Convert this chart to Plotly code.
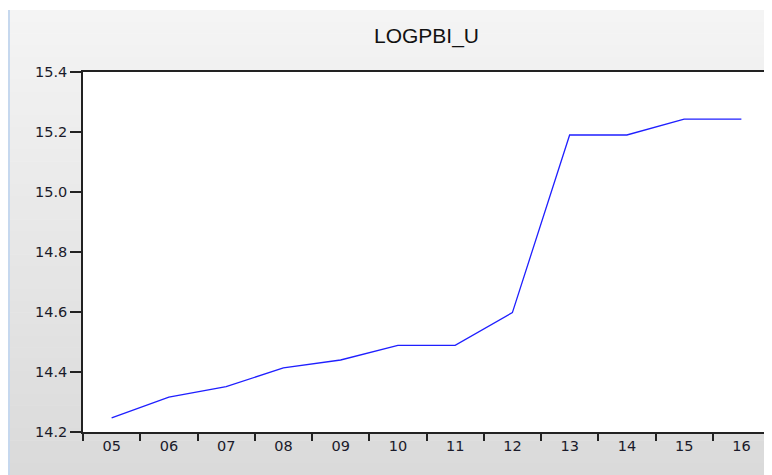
import plotly.graph_objects as go

categories = ["05", "06", "07", "08", "09", "10", "11", "12", "13", "14", "15", "16"]
logpbi_u = [14.247, 14.316, 14.351, 14.414, 14.440, 14.489, 14.489, 14.598, 15.190, 15.190, 15.243, 15.243]
y_ticks = [14.2, 14.4, 14.6, 14.8, 15.0, 15.2, 15.4]

# The page body has an 8px margin, so the figure is laid out 8px smaller.
W, H = 764, 467
ML, MR, MT, MB = 75, 2, 64, 43
PW, PH = W - ML - MR, H - MT - MB


def px_x(X):
    return (X - ML) / PW


def px_y(Y):
    return (H - MB - Y) / PH


fig = go.Figure()
fig.add_trace(go.Scatter(x=categories, y=logpbi_u, mode="lines",
                         line=dict(color="#1f1fff", width=1.3), showlegend=False,
                         hoverinfo="skip"))

shapes = []
top_px, bot_px = 2, H
n = 40
c0, c1 = (0xf4, 0xf4, 0xf4), (0xda, 0xda, 0xda)
for i in range(n):
    y0 = top_px + (bot_px - top_px) * i / n
    y1 = top_px + (bot_px - top_px) * (i + 1) / n + 0.5
    t = i / (n - 1)
    col = "rgb(%d,%d,%d)" % tuple(round(a + (b - a) * t) for a, b in zip(c0, c1))
    shapes.append(dict(type="rect", xref="paper", yref="paper", layer="below",
                       x0=px_x(0), x1=px_x(W + 2),
                       y0=px_y(y1), y1=px_y(y0),
                       fillcolor=col, line=dict(width=0)))
shapes.append(dict(type="line", xref="paper", yref="paper", layer="below",
                   x0=px_x(1), x1=px_x(1), y0=px_y(H), y1=px_y(top_px),
                   line=dict(color="#c6d8ee", width=2)))
shapes.append(dict(type="rect", xref="paper", yref="paper", layer="below",
                   x0=0, x1=1, y0=0, y1=1, fillcolor="white", line=dict(width=0)))

fig.update_layout(
    width=W, height=H,
    margin=dict(l=ML, r=MR, t=MT, b=MB, autoexpand=False),
    paper_bgcolor="white", plot_bgcolor="rgba(0,0,0,0)",
    shapes=shapes,
    title=dict(text="LOGPBI_U", x=px_x((370 + 483) / 2 - 8), xanchor="center", xref="paper",
               y=1 - 28 / H, yanchor="middle",
               font=dict(family="Liberation Sans, Arial", size=21, color="#111111")),
    font=dict(family="DejaVu Sans", size=14.5, color="#1a1a2a"),
    xaxis=dict(type="category", range=[-0.5, 11.5], tickson="boundaries",
               ticks="outside", ticklen=7, tickwidth=1.5, tickcolor="#222",
               showline=True, linecolor="#222", linewidth=1.5, mirror=True,
               showgrid=False, zeroline=False, fixedrange=True, automargin=False),
    yaxis=dict(range=[14.2, 15.4], tickvals=y_ticks, tickformat=".1f",
               ticks="outside", ticklen=11, tickwidth=1.5, tickcolor="#222",
               showline=True, linecolor="#222", linewidth=1.5, mirror=True,
               showgrid=False, zeroline=False, fixedrange=True, automargin=False),
)
fig.write_html("out.html")
